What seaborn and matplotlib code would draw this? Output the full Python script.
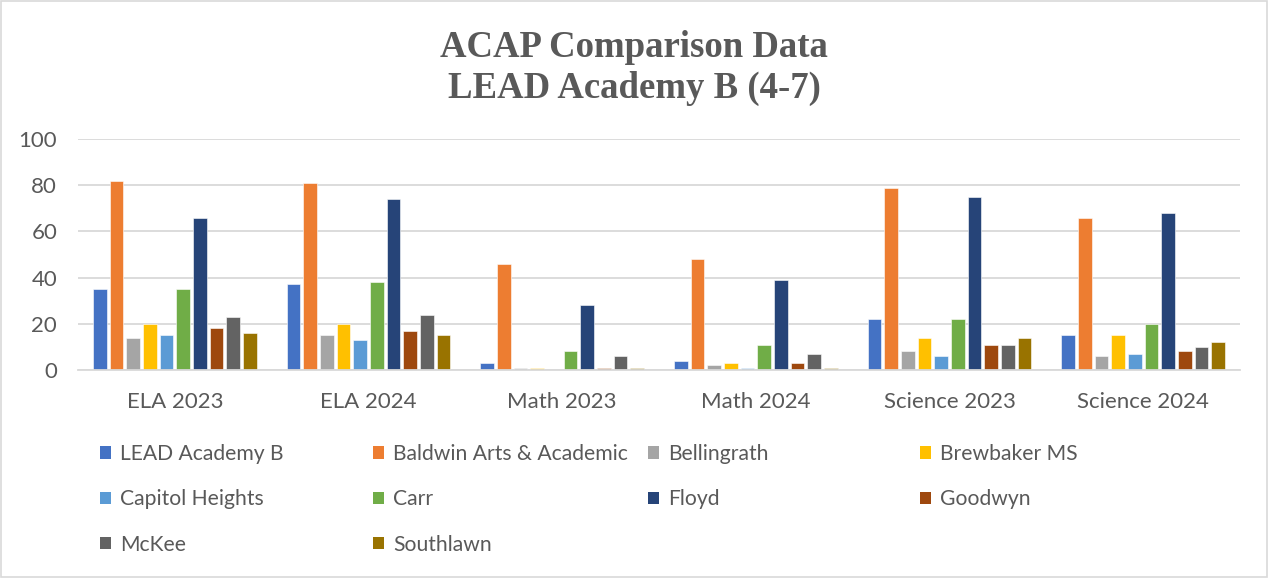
import pandas as pd
import matplotlib
matplotlib.use("Agg")
import matplotlib.pyplot as plt
import seaborn as sns
from matplotlib.patches import Patch, Rectangle

tests = ['ELA 2023', 'ELA 2024', 'Math 2023', 'Math 2024', 'Science 2023', 'Science 2024']
schools = ['LEAD Academy B', 'Baldwin Arts & Academic', 'Bellingrath', 'Brewbaker MS',
           'Capitol Heights', 'Carr', 'Floyd', 'Goodwyn', 'McKee', 'Southlawn']
colors = ['#4472C4', '#ED7D31', '#A5A5A5', '#FFC000', '#5B9BD5',
          '#70AD47', '#264478', '#9E480E', '#636363', '#997300']

lead_academy_b = [35, 37, 3, 4, 22, 15]
baldwin = [82, 81, 46, 48, 79, 66]
bellingrath = [14, 15, 1, 2, 8, 6]
brewbaker = [20, 20, 1, 3, 14, 15]
capitol_heights = [15, 13, 0, 1, 6, 7]
carr = [35, 38, 8, 11, 22, 20]
floyd = [66, 74, 28, 39, 75, 68]
goodwyn = [18, 17, 1, 3, 11, 8]
mckee = [23, 24, 6, 7, 11, 10]
southlawn = [16, 15, 1, 1, 14, 12]

series = [lead_academy_b, baldwin, bellingrath, brewbaker, capitol_heights,
          carr, floyd, goodwyn, mckee, southlawn]

rows = []
for school, vals in zip(schools, series):
    for t, v in zip(tests, vals):
        rows.append({'test': t, 'school': school, 'value': v})
df = pd.DataFrame(rows)

sns.set_style("white")
plt.rcParams['font.family'] = ['Lato', 'DejaVu Sans']
text_gray = '#595959'

fig = plt.figure(figsize=(12.68, 5.78), dpi=100)
ax = fig.add_axes([0.0615, 0.36, 0.9165, 0.3995])

sns.barplot(data=df, x='test', y='value', hue='school', hue_order=schools,
            order=tests, palette=colors, saturation=1, width=0.86, gap=0.18,
            edgecolor='white', linewidth=0.4, ax=ax, legend=False)

ax.set_ylim(0, 100)
ax.set_yticks([0, 20, 40, 60, 80, 100])
ax.set_xlim(-0.5, 5.5)
ax.yaxis.grid(True, color='#d9d9d9', linewidth=1.3)
ax.set_axisbelow(True)
for s in ['top', 'right', 'left']:
    ax.spines[s].set_visible(False)
ax.spines['bottom'].set_color('#d9d9d9')
ax.spines['bottom'].set_linewidth(1.3)
ax.set_xlabel('')
ax.set_ylabel('')
ax.tick_params(axis='both', length=0, labelsize=16, colors=text_gray)
ax.tick_params(axis='x', pad=16)
ax.tick_params(axis='y', pad=15)

fig.text(0.5, 1 - 68 / 578, 'ACAP Comparison Data\nLEAD Academy B (4-7)', ha='center', va='center',
         fontsize=26.5, fontweight='bold', color=text_gray,
         family=['Liberation Serif', 'DejaVu Serif'], linespacing=1.22)

# legend: four columns laid out row by row
handles = [Patch(facecolor=c, edgecolor='none') for c in colors]
col_x = [100, 373, 648, 920]
for ci, x in enumerate(col_x):
    idx = list(range(ci, len(schools), 4))
    leg = fig.legend([handles[i] for i in idx], [schools[i] for i in idx],
                     loc='upper left', bbox_to_anchor=(x / 1268, 1 - 444 / 578),
                     frameon=False, fontsize=15.2, handlelength=0.5, handleheight=0.5,
                     handletextpad=0.45, labelspacing=1.2, borderaxespad=0,
                     borderpad=0)
    for t in leg.get_texts():
        t.set_color(text_gray)

fig.patches.append(Rectangle((0.001, 0.002), 0.998, 0.996, transform=fig.transFigure,
                             fill=False, edgecolor='#d9d9d9', linewidth=1.2))

fig.savefig('out.png', dpi=100)
